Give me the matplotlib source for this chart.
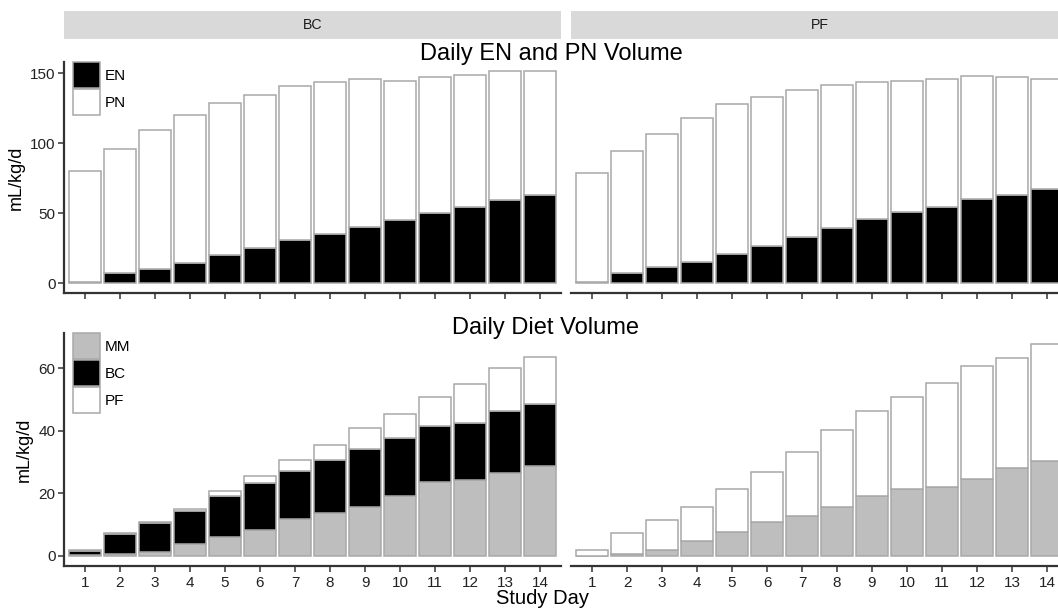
import matplotlib
matplotlib.use("Agg")
import matplotlib.pyplot as plt
from matplotlib.patches import Patch
import numpy as np

plt.rcParams['font.family'] = ['Liberation Sans', 'DejaVu Sans']

days = list(range(1, 15))
groups = ["BC", "PF"]

# top row: daily EN and PN volume (mL/kg/d)
en_bc = [1.0, 7.0, 10.0, 14.3, 20.0, 25.0, 30.5, 35.0, 40.0, 44.8, 50.2, 54.3, 59.3, 62.9]
pn_bc = [79.0, 89.0, 99.5, 105.9, 108.3, 109.5, 110.2, 108.3, 105.7, 99.7, 97.2, 94.5, 91.9, 88.3]
en_pf = [0.7, 6.9, 11.2, 15.2, 20.7, 26.4, 32.6, 39.5, 45.7, 50.5, 54.5, 60.0, 62.9, 67.4]
pn_pf = [77.6, 87.6, 95.0, 102.7, 106.9, 106.2, 105.0, 102.2, 97.9, 94.0, 91.2, 87.9, 84.5, 78.6]

# bottom row: daily diet volume (mL/kg/d)
mm_bc = [0.2, 0.6, 1.2, 3.7, 6.1, 8.3, 11.8, 13.8, 15.6, 19.2, 23.5, 24.2, 26.6, 28.8]
bc_bc = [1.3, 6.5, 9.4, 10.8, 13.1, 15.1, 15.3, 16.8, 18.7, 18.4, 18.1, 18.2, 19.7, 19.6]
pf_bc = [0.4, 0.3, 0.3, 0.6, 1.5, 2.2, 3.7, 4.9, 6.5, 7.8, 9.2, 12.4, 13.6, 15.0]
mm_pf = [0.1, 0.6, 1.9, 4.9, 7.8, 10.9, 12.9, 15.7, 19.1, 21.5, 22.0, 24.6, 28.1, 30.3]
bc_pf = [0.0] * 14
pf_pf = [1.8, 6.8, 9.6, 10.8, 13.5, 15.8, 20.2, 24.5, 27.2, 29.3, 33.1, 36.0, 35.1, 37.5]

W, H = 1058, 608
EDGE = "#A8A8A8"
AXC = "#333333"
TXT = "#222222"

fig = plt.figure(figsize=(W / 100, H / 100), dpi=100)


def px_axes(x0, y0, x1, y1):
    return fig.add_axes([x0 / W, 1 - y1 / H, (x1 - x0) / W, (y1 - y0) / H])


def style(ax, left, bottom_labels, ylim, yticks):
    ax.set_xlim(0.4, 14.6)
    ax.set_ylim(*ylim)
    ax.set_xticks(days)
    ax.set_yticks(yticks)
    for s in ["top", "right"]:
        ax.spines[s].set_visible(False)
    ax.spines["bottom"].set_color(AXC)
    ax.spines["bottom"].set_linewidth(1.6)
    ax.spines["left"].set_color(AXC)
    ax.spines["left"].set_linewidth(1.6)
    ax.spines["left"].set_visible(left)
    ax.tick_params(axis="x", length=4, width=1.1, color=AXC, pad=3,
                   labelsize=11, labelcolor=TXT, labelbottom=bottom_labels)
    ax.tick_params(axis="y", length=4, width=1.1, color=AXC, pad=2,
                   labelsize=11, labelcolor=TXT, left=left, labelleft=left)
    if left:
        ax.set_ylabel("mL/kg/d", fontsize=13, labelpad=4)


def add_legend(ax, handles):
    ax.legend(handles=handles, loc="upper left", bbox_to_anchor=(0.018, 1.0),
              frameon=False, fontsize=11, handlelength=1.75, handleheight=2.2,
              labelspacing=0.1, handletextpad=0.35, borderaxespad=0, borderpad=0)


cols = [(64, 561), (571, 1068)]
top_data = [(en_bc, pn_bc), (en_pf, pn_pf)]
bot_data = [(mm_bc, bc_bc, pf_bc), (mm_pf, bc_pf, pf_pf)]

for i, (x0, x1) in enumerate(cols):
    # facet strip
    sax = px_axes(x0, 11, x1, 39)
    sax.set_facecolor("#D9D9D9")
    sax.set_xticks([])
    sax.set_yticks([])
    for s in sax.spines.values():
        s.set_visible(False)
    sax.text(0.5, 0.5, groups[i], ha="center", va="center", fontsize=10.2,
             color="#1A1A1A", transform=sax.transAxes)

    # top panel
    ax = px_axes(x0, 62, x1, 293)
    en, pn = top_data[i]
    ax.bar(days, en, width=0.9, color="black", edgecolor=EDGE, linewidth=1.1)
    ax.bar(days, pn, width=0.9, bottom=en, color="white", edgecolor=EDGE, linewidth=1.1)
    style(ax, i == 0, False, (-7.1, 157.9), [0, 50, 100, 150])
    if i == 0:
        add_legend(ax, [Patch(facecolor="black", edgecolor=EDGE, linewidth=1.1, label="EN"),
                        Patch(facecolor="white", edgecolor=EDGE, linewidth=1.1, label="PN")])

    # bottom panel
    ax = px_axes(x0, 333, x1, 566)
    mm, bc, pf = bot_data[i]
    mm = np.array(mm)
    bc = np.array(bc)
    pf = np.array(pf)
    ax.bar(days, mm, width=0.9, color="#BEBEBE", edgecolor=EDGE, linewidth=1.1)
    ax.bar(days, bc, width=0.9, bottom=mm, color="black", edgecolor=EDGE,
           linewidth=1.1 if i == 0 else 0)
    ax.bar(days, pf, width=0.9, bottom=mm + bc, color="white", edgecolor=EDGE, linewidth=1.1)
    style(ax, i == 0, True, (-3.2, 71.2), [0, 20, 40, 60])
    if i == 0:
        add_legend(ax, [Patch(facecolor="#BEBEBE", edgecolor=EDGE, linewidth=1.1, label="MM"),
                        Patch(facecolor="black", edgecolor=EDGE, linewidth=1.1, label="BC"),
                        Patch(facecolor="white", edgecolor=EDGE, linewidth=1.1, label="PF")])

fig.text(551 / W, 1 - 54 / H, "Daily EN and PN Volume", ha="center", va="center", fontsize=17)
fig.text(545 / W, 1 - 328 / H, "Daily Diet Volume", ha="center", va="center", fontsize=17)
fig.text(542 / W, 1 - 598 / H, "Study Day", ha="center", va="center", fontsize=14.5)

fig.savefig("out.png", dpi=100)
